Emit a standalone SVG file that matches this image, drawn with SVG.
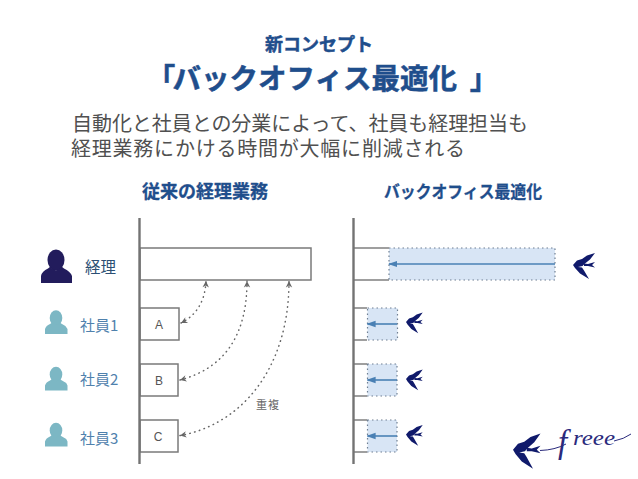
<svg xmlns="http://www.w3.org/2000/svg" width="638" height="479" viewBox="0 0 638 479">
<style>
.jp{font-family:"Noto Sans CJK JP","Liberation Sans",sans-serif}
.h{fill:#1f4e8c;font-weight:700;text-anchor:middle}
.body{fill:#505050;font-size:20px;font-weight:400}
.staff{fill:#4f81ad;font-size:15px}
.axis{stroke:#737373;stroke-width:2.4;fill:none}
.box{stroke:#7a7a7a;stroke-width:1.5;fill:#fff}
.letter{font-family:"Liberation Sans",Arial,sans-serif;font-size:12px;fill:#555;text-anchor:middle}
.dot{fill:none;stroke:#666;stroke-width:1.5;stroke-dasharray:.5 4.5;stroke-linecap:round}
.auto{fill:#d8e5f5;stroke:#6f7f92;stroke-width:1.2;stroke-dasharray:1.5 3}
.line{stroke:#808080;stroke-width:1.5;fill:none}
.flow{stroke:#4a80b4;stroke-width:1.6;fill:none}
.logo-ink{font-family:"Liberation Serif",serif;font-style:italic;fill:#2a2a7c}
</style>
<defs>
<marker id="barb" viewBox="0 0 10 10" refX="9" refY="5" markerWidth="8" markerHeight="8" markerUnits="userSpaceOnUse" orient="auto-start-reverse">
<path d="M1 1L9 5L1 9L3.500 5Z" fill="#666"/>
</marker>
<marker id="tri" viewBox="0 0 10 10" refX="9" refY="5" markerWidth="9" markerHeight="9" markerUnits="userSpaceOnUse" orient="auto">
<path d="M0 1.500L10 5L0 8.500Z" fill="#4a80b4"/>
</marker>
<g id="bird">
<path d="M0 12L4 7.500L9 6L14 2.500L22 0L17 6.500L12 10.500L9.500 13L5 14L9 14.500L11 17.500L16 26L7 20.500L2 15Z" fill="#101a6b"/>
<path d="M11 10.500L15 11L22 9L19 12L22 14.500L15 13L11 13Z" fill="#101a6b"/>
</g>
<g id="person">
<ellipse cx="0" cy="0" rx="6.300" ry="7.800" fill="#7cb7c4"/>
<path d="M-11 16V11Q-10 7.500-6 6Q-4.500 5-4 4.500Q0 9 4 4.500Q4.500 5 6 6Q10 7.500 11.500 11V16Z" fill="#7cb7c4"/>
</g>
</defs>

<g id="title">
<text class="jp h" x="319" y="51" font-size="18" stroke="#1f4e8c" stroke-width=".5">新コンセプト</text>
<text class="jp h" x="318" y="89" font-size="28.500" stroke="#1f4e8c" stroke-width=".5"><tspan x="161">「</tspan><tspan x="318">バックオフィス最適化 </tspan><tspan x="484">」</tspan></text>
</g>
<g id="lead">
<text class="jp body" x="72" y="131" textLength="456">自動化と社員との分業によって、社員も経理担当も</text>
<text class="jp body" x="71" y="156" textLength="394">経理業務にかける時間が大幅に削減される</text>
</g>
<g id="heading-before"><text class="jp h" x="205" y="198" font-size="18" stroke="#1f4e8c" stroke-width=".3">従来の経理業務</text></g>
<g id="heading-after"><text class="jp h" x="463" y="198" font-size="17" stroke="#1f4e8c" stroke-width=".3" textLength="158" lengthAdjust="spacingAndGlyphs">バックオフィス最適化</text></g>

<g id="role-manager">
<ellipse cx="56" cy="260" rx="8.500" ry="10.500" fill="#221c5c"/>
<path d="M41 283V276Q42 271 48 268.500L50.500 266.500Q56 274 61.500 266.500L64 268.500Q70 271 72 276V283Z" fill="#221c5c"/>
<text class="jp" x="85" y="273" font-size="15.500" fill="#2c4f74">経理</text>
</g>
<g id="role-staff1"><use href="#person" x="56" y="318"/><text class="jp staff" x="80" y="331">社員1</text></g>
<g id="role-staff2"><use href="#person" x="56" y="374.500"/><text class="jp staff" x="80" y="385">社員2</text></g>
<g id="role-staff3"><use href="#person" x="56" y="430.500"/><text class="jp staff" x="80" y="444">社員3</text></g>

<g id="task-before">
<rect class="box" x="140" y="248" width="171" height="32"/>
</g>
<g id="task-a"><rect class="box" x="140" y="308" width="39" height="32"/><text class="letter" x="159" y="329">A</text></g>
<g id="task-b"><rect class="box" x="140" y="364" width="38" height="32"/><text class="letter" x="159" y="385">B</text></g>
<g id="task-c"><rect class="box" x="140" y="420" width="38" height="32"/><text class="letter" x="158" y="441">C</text></g>
<g id="label-dup"><text class="jp" x="268" y="409" font-size="11" fill="#666" text-anchor="middle" letter-spacing="1">重複</text></g>

<g id="after-manager">
<path class="line" d="M354 248H389M354 280H389"/>
<rect class="auto" x="389" y="248" width="166" height="32"/>
<use href="#bird" x="573" y="253"/>
</g>
<g id="after-staff1">
<path class="line" d="M354 308H367M354 340H367"/>
<rect class="auto" x="367.500" y="308" width="30" height="32"/>
<use href="#bird" transform="translate(406 312.500) scale(.76 .8)"/>
</g>
<g id="after-staff2">
<path class="line" d="M354 364H367M354 396H367"/>
<rect class="auto" x="367.500" y="364" width="29.500" height="32"/>
<use href="#bird" transform="translate(406 369.500) scale(.76 .8)"/>
</g>
<g id="after-staff3">
<path class="line" d="M354 420H367M354 452H367"/>
<rect class="auto" x="367.500" y="420" width="29.500" height="32"/>
<use href="#bird" transform="translate(406 425) scale(.76 .8)"/>
</g>

<g id="connectors">
<path class="axis" d="M139.500 218V464"/>
<path class="axis" d="M353.500 218V464"/>
<path class="dot" d="M181 323C195 316 205 303 206 281" marker-start="url(#barb)" marker-end="url(#barb)"/>
<path class="dot" d="M180 380C225 368 247 335 247 281" marker-start="url(#barb)" marker-end="url(#barb)"/>
<path class="dot" d="M180 435.500C240 425 289 370 289 281" marker-start="url(#barb)" marker-end="url(#barb)"/>
<path class="flow" d="M555 264H389" marker-end="url(#tri)"/>
<path class="flow" d="M397 324H367.500" marker-end="url(#tri)"/>
<path class="flow" d="M397 380H367.500" marker-end="url(#tri)"/>
<path class="flow" d="M397 436H367.500" marker-end="url(#tri)"/>
</g>

<g id="logo">
<use href="#bird" transform="translate(513 433.500) scale(1.250 1.360)"/>
<path d="M540 450.500Q555 450 566 444M614 441Q624 439 631 434" fill="none" stroke="#2a2a7c" stroke-width="1"/>
<text class="logo-ink" x="558" y="453" font-size="33">f</text>
<text class="logo-ink" x="573" y="445" font-size="20" textLength="42" lengthAdjust="spacingAndGlyphs">reee</text>
</g>
</svg>
